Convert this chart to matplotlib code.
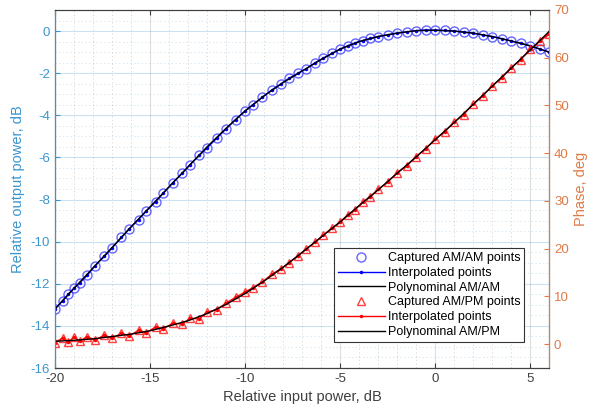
import numpy as np
import matplotlib
matplotlib.use('Agg')
import matplotlib.pyplot as plt
from matplotlib.ticker import MultipleLocator

plt.rcParams['font.family'] = ['Liberation Sans', 'DejaVu Sans']
plt.rcParams['axes.unicode_minus'] = False

# Captured points
x_cap = [-20.0, -19.6, -19.3, -19.0, -18.7, -18.3, -17.9, -17.4, -17.0, -16.5,
         -16.1, -15.6, -15.2, -14.7, -14.3, -13.8, -13.3, -12.9, -12.4, -12.0,
         -11.5, -11.0, -10.5, -10.0, -9.6, -9.1, -8.6, -8.1, -7.7, -7.2,
         -6.8, -6.3, -5.9, -5.4, -5.0, -4.6, -4.2, -3.8, -3.4, -3.0,
         -2.5, -2.0, -1.5, -1.0, -0.5, 0.0, 0.5, 1.0, 1.5, 2.0,
         2.5, 3.0, 3.5, 4.0, 4.5, 5.0, 5.5, 6.0]
am_am_cap = [-13.2, -12.8, -12.5, -12.2, -11.95, -11.6, -11.15, -10.7, -10.3, -9.8,
             -9.4, -8.95, -8.55, -8.1, -7.7, -7.2, -6.75, -6.35, -5.9, -5.55,
             -5.1, -4.65, -4.2, -3.8, -3.5, -3.15, -2.8, -2.5, -2.25, -2.0,
             -1.8, -1.5, -1.3, -1.05, -0.86, -0.7, -0.56, -0.45, -0.35, -0.26,
             -0.18, -0.1, -0.04, 0.02, 0.05, 0.04, 0.03, 0.0, -0.05, -0.1,
             -0.18, -0.26, -0.36, -0.47, -0.58, -0.7, -0.85, -1.0]
am_pm_cap = [0.3, 1.3, 0.4, 1.4, 0.6, 1.6, 0.8, 1.9, 1.2, 2.3,
             1.7, 2.9, 2.4, 3.6, 3.2, 4.4, 4.2, 5.4, 5.3, 6.7,
             7.2, 8.6, 9.8, 10.9, 11.8, 13.0, 14.6, 15.8, 17.0, 18.5,
             19.9, 21.4, 22.8, 24.4, 25.5, 27.1, 28.2, 29.8, 30.9, 32.4,
             33.9, 35.9, 37.3, 39.3, 40.9, 42.9, 44.5, 46.5, 48.1, 50.3,
             52.0, 54.1, 55.8, 57.9, 59.6, 61.8, 63.4, 65.0]

# Polynomial fits (read at 1 dB steps)
x_fit = [-20, -19, -18, -17, -16, -15, -14, -13, -12, -11, -10, -9, -8, -7,
         -6, -5, -4, -3, -2, -1, 0, 1, 2, 3, 4, 5, 6]
am_am_fit = [-13.2, -12.22, -11.25, -10.28, -9.3, -8.35, -7.4, -6.45, -5.5, -4.62,
             -3.8, -3.08, -2.45, -1.9, -1.35, -0.86, -0.5, -0.26, -0.1, 0.02,
             0.04, 0.0, -0.1, -0.26, -0.47, -0.7, -1.0]
am_pm_fit = [0.6, 0.8, 1.1, 1.6, 2.1, 2.8, 3.8, 4.9, 6.4, 8.3,
             10.6, 13.2, 16.1, 19.2, 22.4, 25.6, 29.0, 32.3, 35.8, 39.2,
             42.8, 46.4, 50.2, 54.0, 57.8, 61.6, 65.5]

left_col = '#0072BD'
right_col = '#D95319'
grid_col = '#262626'

fig = plt.figure(figsize=(5.93, 4.18), dpi=100)
ax = fig.add_axes([0.0927, 0.1196, 0.8333, 0.8565])
ax2 = ax.twinx()

h1, = ax.plot(x_cap, am_am_cap, 'o', ms=6.5, mfc='none', mec='#3333ff', mew=1.0, alpha=0.75,
              label='Captured AM/AM points')
h2, = ax.plot(x_cap, am_am_cap, '-', color='blue', lw=1.0, marker='.', ms=3,
              label='Interpolated points')
h3, = ax.plot(x_fit, am_am_fit, '-', color='black', lw=1.0, label='Polynominal AM/AM')

h4, = ax2.plot(x_cap, am_pm_cap, '^', ms=6, mfc='none', mec='#ff2020', mew=1.0, alpha=0.85,
               label='Captured AM/PM points')
h5, = ax2.plot(x_cap, am_pm_cap, '-', color='red', lw=1.0, marker='.', ms=3,
               label='Interpolated points')
h6, = ax2.plot(x_fit, am_pm_fit, '-', color='black', lw=1.0, label='Polynominal AM/PM')

ax.set_xlim(-20, 6)
ax.set_ylim(-16, 1)
ax2.set_ylim(-5, 70)
ax.set_xticks([-20, -15, -10, -5, 0, 5])
ax.set_yticks(range(-16, 1, 2))
ax2.set_yticks(range(0, 71, 10))
ax.xaxis.set_minor_locator(MultipleLocator(1))
ax.yaxis.set_minor_locator(MultipleLocator(0.5))

ax.grid(True, which='major', axis='x', color=grid_col, alpha=0.15, lw=0.8)
ax.grid(True, which='major', axis='y', color=left_col, alpha=0.2, lw=0.8)
ax.grid(True, which='minor', axis='x', color=grid_col, alpha=0.2, lw=0.6, ls=(0, (1.5, 3)))
ax.grid(True, which='minor', axis='y', color=left_col, alpha=0.2, lw=0.6, ls=(0, (1.5, 3)))
ax.set_axisbelow(True)

ax.tick_params(axis='both', which='both', direction='in', labelsize=9.5)
ax.tick_params(axis='x', which='minor', length=0)
ax.tick_params(axis='y', which='minor', length=0)
ax.tick_params(axis='x', colors='#404040', top=True)
ax.tick_params(axis='y', colors='#3a95d0')
ax2.tick_params(axis='y', direction='in', colors='#e07a45', labelsize=9.5)

for s in ['top', 'bottom']:
    ax.spines[s].set_color('#404040')
ax2.spines['left'].set_color('#3a95d0')
ax2.spines['right'].set_color('#e07a45')
ax2.spines['top'].set_color('#404040')
ax2.spines['bottom'].set_color('#404040')

ax.set_xlabel('Relative input power, dB', fontsize=10.5, color='#404040', labelpad=4)
ax.set_ylabel('Relative output power, dB', fontsize=10.5, color='#3a95d0')
ax2.set_ylabel('Phase, deg', fontsize=10.5, color='#e07a45')

leg = ax2.legend(handles=[h1, h2, h3, h4, h5, h6], loc='lower right',
                 bbox_to_anchor=(0.962, 0.056), fontsize=9, frameon=True, fancybox=False,
                 edgecolor='#333333', framealpha=1, handlelength=3.8, labelspacing=0.22,
                 borderpad=0.3, handletextpad=0.2)
leg.get_frame().set_linewidth(0.8)

fig.savefig('out.png', dpi=100)
